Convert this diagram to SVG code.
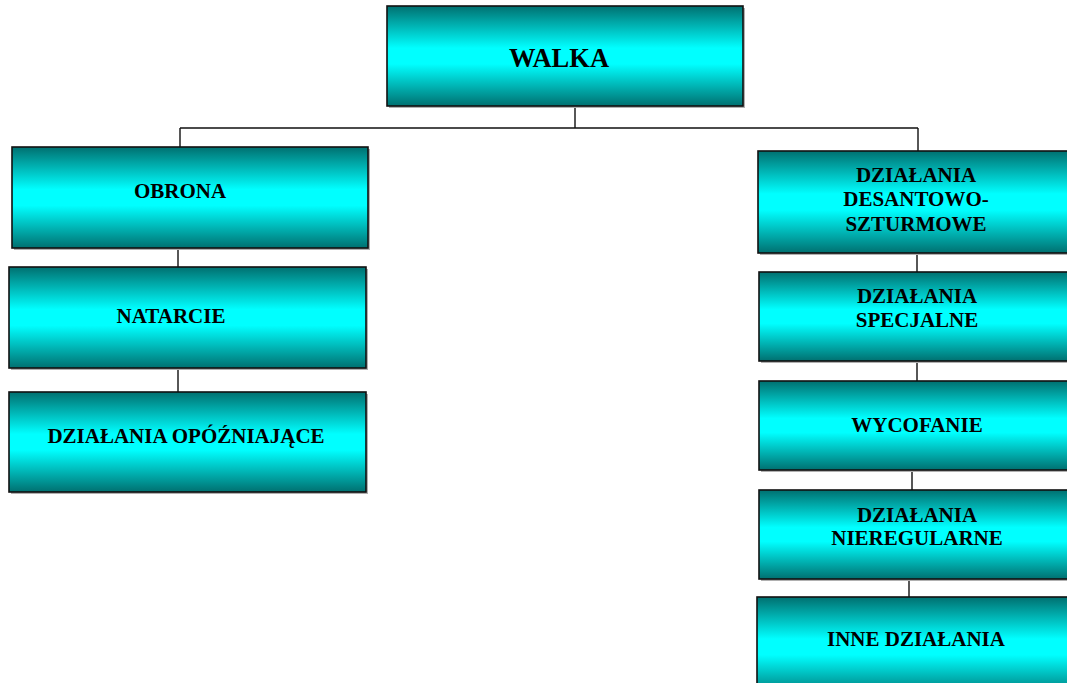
<svg xmlns="http://www.w3.org/2000/svg" width="1067" height="683" viewBox="0 0 1067 683">
<defs>
<linearGradient id="g" x1="0" y1="0" x2="0" y2="1">
<stop offset="0" stop-color="#007070"/>
<stop offset="0.42" stop-color="#00ffff"/>
<stop offset="0.58" stop-color="#00ffff"/>
<stop offset="1" stop-color="#007070"/>
</linearGradient>
<style>
.box{fill:url(#g);stroke:#111;stroke-width:1.6}
.sh{fill:#b0b0b0}
.t{font-family:"Liberation Serif","Times New Roman",serif;font-weight:bold;font-size:21px;fill:#000;text-anchor:middle}
.big{font-size:26.5px}
.c{fill:none;stroke:#111;stroke-width:1.4}
</style>
</defs>
<rect width="1067" height="683" fill="#fff"/>
<g id="connectors">
<path class="c" d="M575 106V128M180 128H918M180 128V147M918 128V151M178 248V267M178 368V392M917 253V272M917 361V381M912 470V490M909 579V597"/>
</g>
<g id="walka">
<rect class="sh" x="389" y="8" width="356" height="100"/>
<rect class="box" x="387" y="6" width="356" height="100"/>
<text class="t big" x="559" y="67">WALKA</text>
</g>
<g id="obrona">
<rect class="sh" x="14" y="149" width="356" height="101"/>
<rect class="box" x="12" y="147" width="356" height="101"/>
<text class="t" x="180" y="198">OBRONA</text>
</g>
<g id="natarcie">
<rect class="sh" x="11" y="269" width="357" height="101"/>
<rect class="box" x="9" y="267" width="357" height="101"/>
<text class="t" x="171" y="323">NATARCIE</text>
</g>
<g id="opozniajace">
<rect class="sh" x="11" y="394" width="357" height="100"/>
<rect class="box" x="9" y="392" width="357" height="100"/>
<text class="t" x="186" y="443">DZIAŁANIA OPÓŹNIAJĄCE</text>
</g>
<g id="desantowo">
<rect class="sh" x="760" y="153" width="320" height="102"/>
<rect class="box" x="758" y="151" width="320" height="102"/>
<text class="t" x="916" y="182">DZIAŁANIA</text>
<text class="t" x="916" y="206">DESANTOWO-</text>
<text class="t" x="916" y="231">SZTURMOWE</text>
</g>
<g id="specjalne">
<rect class="sh" x="761" y="274" width="320" height="89"/>
<rect class="box" x="759" y="272" width="320" height="89"/>
<text class="t" x="917" y="303">DZIAŁANIA</text>
<text class="t" x="917" y="327">SPECJALNE</text>
</g>
<g id="wycofanie">
<rect class="sh" x="761" y="383" width="320" height="89"/>
<rect class="box" x="759" y="381" width="320" height="89"/>
<text class="t" x="917" y="432">WYCOFANIE</text>
</g>
<g id="nieregularne">
<rect class="sh" x="761" y="492" width="320" height="89"/>
<rect class="box" x="759" y="490" width="320" height="89"/>
<text class="t" x="917" y="522">DZIAŁANIA</text>
<text class="t" x="917" y="545">NIEREGULARNE</text>
</g>
<g id="inne">
<rect class="sh" x="759" y="599" width="320" height="100"/>
<rect class="box" x="757" y="597" width="320" height="100"/>
<text class="t" x="916" y="646">INNE DZIAŁANIA</text>
</g>
</svg>
